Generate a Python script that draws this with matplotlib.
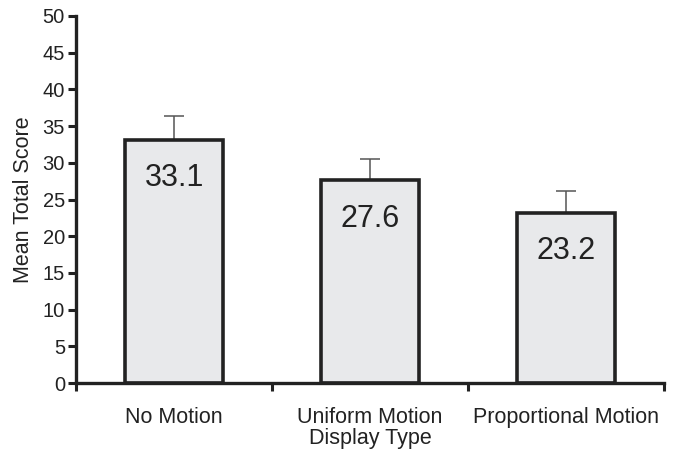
import matplotlib
matplotlib.use("Agg")
import matplotlib.pyplot as plt
import numpy as np

categories = ["No Motion", "Uniform Motion", "Proportional Motion"]
means = [33.1, 27.6, 23.2]
err_tops = [36.4, 30.5, 26.1]
yticks = [0, 5, 10, 15, 20, 25, 30, 35, 40, 45, 50]

plt.rcParams['font.family'] = ['Liberation Sans', 'DejaVu Sans']

fig = plt.figure(figsize=(6.77, 4.53), dpi=100)
ax = fig.add_axes([0.1123, 0.1545, 0.981 - 0.1123, 0.9647 - 0.1545])

x = np.arange(len(categories))
errs = [t - m for t, m in zip(err_tops, means)]
ax.errorbar(x, means, yerr=[np.zeros(len(errs)), errs], fmt='none',
            ecolor='#555555', elinewidth=1.1, capsize=7, capthick=1.1, zorder=1)
ax.bar(x, means, width=0.5, color='#e8e9eb', edgecolor='#222222', linewidth=2.6, zorder=2)

for xi, m in zip(x, means):
    ax.text(xi, m - 5.2, f"{m}", ha='center', va='center', fontsize=22, color='#222222', zorder=3)

ax.set_xlim(-0.5, 2.5)
ax.set_ylim(0, 50)
ax.set_yticks(yticks)
ax.set_yticklabels([str(v) for v in yticks], fontsize=14.5, color='#222222')
ax.set_xticks([-0.5, 0.5, 1.5, 2.5])
ax.set_xticklabels([])
ax.set_xticks(x, minor=True)
ax.set_xticklabels(categories, minor=True, fontsize=15.5, color='#222222')
ax.tick_params(axis='x', which='minor', length=0, pad=17)
ax.tick_params(axis='x', which='major', length=6, width=2.2, color='#222222', direction='out')
ax.tick_params(axis='y', length=6, width=2.2, color='#222222', direction='out', pad=2)

ax.set_ylabel("Mean Total Score", fontsize=15.5, color='#222222', labelpad=6)
ax.set_xlabel("Display Type", fontsize=15.5, color='#222222', labelpad=0)

for s in ['top', 'right']:
    ax.spines[s].set_visible(False)
for s in ['left', 'bottom']:
    ax.spines[s].set_linewidth(2.4)
    ax.spines[s].set_color('#222222')

fig.savefig("out.png", dpi=100)
